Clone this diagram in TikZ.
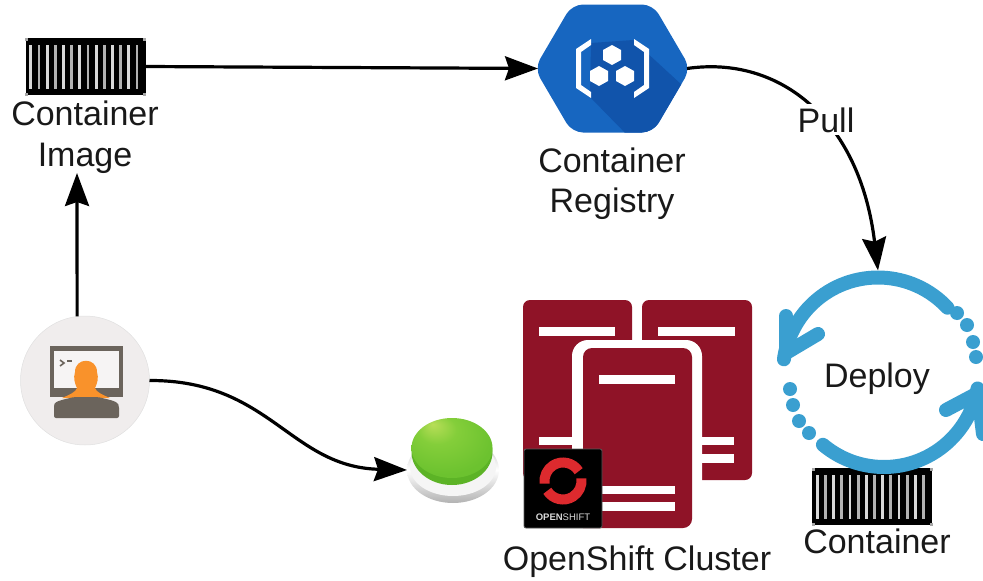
\documentclass[tikz,border=0pt]{standalone}
\usepackage{fontspec}
\setmainfont{Liberation Sans}
\usetikzlibrary{arrows.meta,shapes.geometric}
\definecolor{regblue}{HTML}{1766C0}
\definecolor{regdark}{HTML}{1154AB}
\definecolor{srvred}{HTML}{8F1327}
\definecolor{deployblue}{HTML}{3A9FD0}
\definecolor{usergray}{HTML}{6B645C}
\definecolor{userbg}{HTML}{F0EDED}
\definecolor{userorange}{HTML}{F9922B}
\definecolor{osred}{HTML}{DD2A2E}
\definecolor{btna}{HTML}{B8DE58}
\definecolor{btnb}{HTML}{84CE3A}
\definecolor{btnc}{HTML}{6CC22F}
\definecolor{btnd}{HTML}{66BE2C}
\definecolor{btnrim}{HTML}{5CB326}
\pgfdeclareradialshading{btnshade}{\pgfpoint{-12bp}{20bp}}{color(0bp)=(btna);color(12bp)=(btnb);color(30bp)=(btnc);color(50bp)=(btnd)}
\tikzset{
  lbl/.style={font=\fontsize{34}{40}\selectfont,anchor=base,inner sep=0pt,text=black!90},
  conn/.style={line width=3.2pt,-{Stealth[length=33pt,width=24pt,inset=4pt]}},
  hidden/.style={inner sep=0pt,outer sep=0pt},
  cbox/.style={hidden,fill=black,minimum width=120pt,minimum height=57pt},
  bar/.style={fill=white},
  ringarc/.style={draw=deployblue,line width=14pt,line cap=round,line join=round},
  dot/.style={fill=deployblue},
  containericon/.pic={
    \foreach \i in {0,...,13}{
      \pgfmathsetmacro{\sx}{-54.7+8.17*\i}
      \ifodd\i \fill[white!70!black] (\sx-1.4,-22) rectangle (\sx+1.4,22);
      \else \fill[white!85!black] (\sx-1.4,-22) rectangle (\sx+1.4,22); \fi
    }
    \foreach \sx in {-59,59}\foreach \sy in {-27.5,27.5}
      \fill[gray!70] (\sx-1.5,\sy-1.5) rectangle (\sx+1.5,\sy+1.5);
  }
}
\begin{document}
\begin{tikzpicture}[x=1pt,y=-1pt]
\useasboundingbox (0,0) rectangle (983,581);

% container image
\node[cbox] (cimage) at (85.5,66.5) {};
\pic at (cimage.center) {containericon};
\node[lbl] (cimagetxt) at (85,125) {Container};
\node[lbl] (imagetxt) at (85,166) {Image};
\coordinate (imagetip) at (77,173);

% registry
\node[hidden,minimum width=149pt,minimum height=127pt] (reg) at (612.5,68.5) {};
\begin{scope}
  \clip[rounded corners=11pt] (534.5,68.5) -- (572,4.5) -- (653,4.5) -- (690.5,68.5) -- (653,132.5) -- (572,132.5) -- cycle;
  \fill[regblue] (530,0) rectangle (695,140);
  \fill[regdark] (591,43) -- (633,40) -- (695,97) -- (695,140) -- (632,140) -- (590,97) -- cycle;
\end{scope}
\fill[white] (591,39) -- (591,45) -- (581,52) -- (581,85) -- (591,92) -- (591,98) -- (576,88) -- (576,49) -- cycle;
\fill[white] (634,39) -- (634,45) -- (644,52) -- (644,85) -- (634,92) -- (634,98) -- (649,88) -- (649,49) -- cycle;
\foreach \hx/\hy in {612/55,599/76,625/76}
  \fill[white] (\hx,\hy-10) -- (\hx+9,\hy-5) -- (\hx+9,\hy+5) -- (\hx,\hy+10) -- (\hx-9,\hy+5) -- (\hx-9,\hy-5) -- cycle;
\node[lbl] (regtxta) at (612,172) {Container};
\node[lbl] (regtxtb) at (612,212) {Registry};

% user
\node[hidden,circle,fill=userbg,draw=black!12,line width=.5pt,minimum size=129pt] (user) at (85,380.5) {};
\fill[usergray] (50,346) rectangle (123,397);
\fill[userbg!60!white] (54,351) rectangle (119,388);
\draw[usergray,line width=1.6pt] (60,360) -- (64,363) -- (60,366);
\draw[usergray,line width=1.2pt] (67,361) -- (72,361);
\fill[userorange] (75,372) .. controls (75,357) and (97,357) .. (97,372) .. controls (99,378) and (97,384) .. (95,388) .. controls (96,392) and (103,395) .. (110,398) -- (62,398) .. controls (69,395) and (76,392) .. (77,388) .. controls (75,384) and (73,378) .. (75,372) -- cycle;
\fill[usergray,rounded corners=2pt] (54,418) -- (54,406) .. controls (55,401) and (66,399) .. (74,397) -- (98,397) .. controls (106,399) and (117,401) .. (119,406) -- (119,418) -- cycle;

% button
\node[hidden,ellipse,minimum width=92pt,minimum height=64pt] (btn) at (453,470) {};
\shade[top color=gray!55,bottom color=gray!60,middle color=white] (453,470) ellipse [x radius=46,y radius=33];
\fill[white!92!gray] (453,467) ellipse [x radius=43,y radius=29];
\fill[btnrim] (452,452) ellipse [x radius=40.5,y radius=33];
\shade[shading=btnshade] (452,448) ellipse [x radius=40.5,y radius=30];

% servers
\fill[srvred,rounded corners=7pt] (523,480) -- (523,300) -- (632,300) -- (632,480) -- cycle;
\fill[srvred,rounded corners=7pt] (642,480) -- (642,300) -- (752,300) -- (752,480) [sharp corners] -- cycle;
\fill[bar] (539,327) rectangle (615,336);
\fill[bar] (658,327) rectangle (735,336);
\fill[white,rounded corners=16pt] (572,540) -- (572,340) -- (702,340) -- (702,540) -- cycle;
\fill[srvred,rounded corners=9pt] (583,528) -- (583,348) -- (692,348) -- (692,528) [sharp corners] -- cycle;
\fill[bar] (539,437) rectangle (572,445);
\fill[bar] (702,437) rectangle (734,445);
\fill[bar] (702,454) rectangle (734,463);
\fill[bar] (599,375) rectangle (675,384);
\fill[bar] (599,486) rectangle (675,494);
\fill[bar] (599,502) rectangle (675,511);
\node[hidden,fill=black,rounded corners=2pt,draw=black!65,line width=.8pt,minimum width=78pt,minimum height=79pt] (logo) at (563,488.5) {};
\draw[osred,line width=10pt] (563,481) ++(-32:18.5) arc[start angle=-32,end angle=-188,radius=18.5];
\draw[osred,line width=10pt] (563,481) ++(-212:18.5) arc[start angle=-212,end angle=-368,radius=18.5];
\node[hidden,font=\fontsize{9.5}{10}\selectfont,text=white!85!black] (logotxt) at (563,517) {\textbf{OPEN}SHIFT};
\node[lbl] (clustertxt) at (637,570) {OpenShift Cluster};

% deploy
\node[cbox] (cdeploy) at (872,496.5) {};
\pic at (cdeploy.center) {containericon};
\node[hidden,circle,minimum size=204pt] (deploy) at (878,372.5) {};
\draw[ringarc] (878,372.5) ++(-43:95) arc[start angle=-43,end angle=-172,radius=95];
\draw[ringarc] (786,316) -- (786,353) -- (818,334);
\draw[ringarc] (884,372) ++(-230:95) arc[start angle=-230,end angle=-350,radius=95];
\draw[ringarc] (946,410) -- (978,393) -- (983,434);
\foreach \dx/\dy in {957/313,967/325,973/342,976/357,790/389,793/405,799/421,809/433}
  \fill[dot] (\dx,\dy) circle (7);
\node[lbl] (deploytxt) at (877,387) {Deploy};
\node[lbl] (cdeploytxt) at (877,553) {Container};

% connectors
\draw[conn] (cimage.east) -- (reg.west);
\draw[conn] (user.97) -- (imagetip);
\draw[conn] (user.east) .. controls (270,380) and (290,467) .. (btn.west);
\draw[conn] (reg.east) .. controls (780,55) and (860,120) .. (deploy.north);
\node[lbl,fill=white,inner sep=3pt] (pull) at (826,132) {Pull};
\end{tikzpicture}
\end{document}
